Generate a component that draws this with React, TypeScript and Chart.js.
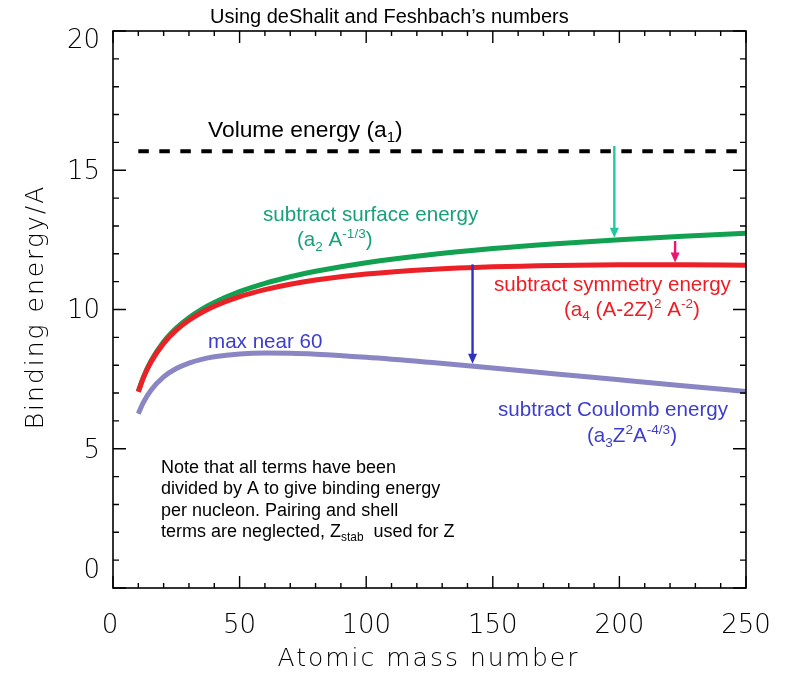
import React, { useEffect, useRef } from "react";
import { Chart, registerables } from "chart.js";

Chart.register(...registerables);

// ---------- data ----------
const massNumbers = [10, 12, 15, 20, 25, 30, 35, 40, 50, 60, 70, 80, 100, 125, 150, 175, 200, 225, 250];
const surfaceCurve = [7.065, 7.573, 8.154, 8.842, 9.333, 9.707, 10.006, 10.253, 10.642, 10.939, 11.177, 11.373, 11.681, 11.968, 12.187, 12.362, 12.506, 12.628, 12.734];
const symmetryCurve = [7.042, 7.544, 8.115, 8.785, 9.258, 9.612, 9.891, 10.118, 10.464, 10.716, 10.909, 11.058, 11.271, 11.436, 11.533, 11.584, 11.605, 11.604, 11.587];
const coulombCurve = [6.257, 6.664, 7.104, 7.580, 7.880, 8.077, 8.210, 8.302, 8.403, 8.436, 8.430, 8.397, 8.286, 8.103, 7.899, 7.687, 7.474, 7.263, 7.057];
const volumeMass = [10, 250];
const volumeLevel = [15.68, 15.68];

const arrowMass = [198, 222, 142];
const arrowFrom = [15.87, 12.46, 11.62];
const arrowTo = [12.58, 11.69, 8.05];

const xTickValues = [0, 50, 100, 150, 200, 250];
const xTickLabels = ["0", "50", "100", "150", "200", "250"];
const yTickValues = [0, 5, 10, 15, 20];
const yTickLabels = ["0", "5", "10", "15", "20"];
const xMinorStep = 10;
const yMinorStep = 1;

const titleText = "Using deShalit and Feshbach\u2019s numbers";
const xTitle = "Atomic mass number";
const yTitle = "Binding energy/A";
const noteLines = [
  "Note that all terms have been",
  "divided by A to give binding energy",
  "per nucleon. Pairing and shell",
];

// ---------- styles ----------
const GREEN = "#12a150";
const RED = "#ec2027";
const PURPLE = "#8a86c4";
const ARROW_COLORS = ["#22c9a0", "#f0126e", "#3030c0"];
const GREEN_TXT = "#17a07a";
const RED_TXT = "#ee1c24";
const BLUE_TXT = "#3d3dd0";
const SANS = "'Liberation Sans', Arial, sans-serif";
const AXFONT = "'DejaVu Sans', sans-serif";
const ANN = 20.6;

type Seg = [string, "n" | "sub" | "sup"];

function drawRich(ctx: CanvasRenderingContext2D, segs: Seg[], x: number, y: number, size: number, color: string) {
  ctx.save();
  ctx.fillStyle = color;
  ctx.textAlign = "left";
  ctx.textBaseline = "alphabetic";
  let cx = x;
  for (const [t, m] of segs) {
    const s = m === "n" ? size : size * 0.66;
    const dy = m === "sub" ? size * 0.22 : m === "sup" ? -size * 0.38 : 0;
    ctx.font = `${s}px ${SANS}`;
    ctx.fillText(t, cx, y + dy);
    cx += ctx.measureText(t).width;
  }
  ctx.restore();
}

const decorPlugin = {
  id: "decor",
  afterDatasetsDraw(chart: any) {
    const ctx: CanvasRenderingContext2D = chart.ctx;
    const xs = chart.scales.x;
    const ys = chart.scales.y;
    const { left, right, top, bottom } = chart.chartArea;

    // arrows
    arrowMass.forEach((m, i) => {
      const px = xs.getPixelForValue(m);
      const p0 = ys.getPixelForValue(arrowFrom[i]);
      const p1 = ys.getPixelForValue(arrowTo[i]);
      ctx.save();
      ctx.strokeStyle = ARROW_COLORS[i];
      ctx.fillStyle = ARROW_COLORS[i];
      ctx.lineWidth = 2.4;
      ctx.beginPath();
      ctx.moveTo(px, p0);
      ctx.lineTo(px, p1 - 6);
      ctx.stroke();
      ctx.beginPath();
      ctx.moveTo(px - 4.5, p1 - 10);
      ctx.lineTo(px + 4.5, p1 - 10);
      ctx.lineTo(px, p1);
      ctx.closePath();
      ctx.fill();
      ctx.restore();
    });

    // frame
    ctx.save();
    ctx.strokeStyle = "#000";
    ctx.lineWidth = 1.6;
    ctx.strokeRect(left, top, right - left, bottom - top);
    ctx.lineWidth = 1.4;
    ctx.beginPath();
    for (let v = xs.min; v <= xs.max + 1e-6; v += xMinorStep) {
      const px = xs.getPixelForValue(v);
      const len = xTickValues.includes(v) ? 12 : 5;
      ctx.moveTo(px, bottom);
      ctx.lineTo(px, bottom - len);
      ctx.moveTo(px, top);
      ctx.lineTo(px, top + len);
    }
    for (let v = ys.min; v <= ys.max + 1e-6; v += yMinorStep) {
      const py = ys.getPixelForValue(v);
      const len = yTickValues.includes(v) ? 13 : 6;
      ctx.moveTo(left, py);
      ctx.lineTo(left + len, py);
      ctx.moveTo(right, py);
      ctx.lineTo(right - len, py);
    }
    ctx.stroke();

    // tick labels
    ctx.fillStyle = "#000";
    ctx.font = `200 26px ${AXFONT}`;
    ctx.textAlign = "center";
    ctx.textBaseline = "alphabetic";
    xTickValues.forEach((v, i) => {
      ctx.fillText(xTickLabels[i], xs.getPixelForValue(v) - (v === 0 ? 3 : 0), bottom + 45);
    });
    ctx.textAlign = "right";
    ctx.textBaseline = "middle";
    yTickValues.forEach((v, i) => {
      let py = ys.getPixelForValue(v) + 2;
      py = Math.max(top + 10, Math.min(bottom - 17, py));
      ctx.fillText(yTickLabels[i], left - 13, py);
    });

    // axis titles
    ctx.font = `200 25px ${AXFONT}`;
    (ctx as any).letterSpacing = "2px";
    ctx.textAlign = "center";
    ctx.textBaseline = "alphabetic";
    ctx.fillText(xTitle, (left + right) / 2 - 1, 666);
    ctx.save();
    ctx.translate(43, 307);
    ctx.rotate(-Math.PI / 2);
    ctx.fillText(yTitle, 0, 0);
    ctx.restore();
    (ctx as any).letterSpacing = "0px";

    // title
    ctx.font = `20px ${SANS}`;
    ctx.textAlign = "left";
    ctx.fillText(titleText, 210, 23);
    ctx.restore();

    // annotations
    drawRich(ctx, [["Volume energy (a", "n"], ["1", "sub"], [")", "n"]], 208, 137, 22.8, "#000");
    drawRich(ctx, [["subtract surface energy", "n"]], 263, 221, ANN, GREEN_TXT);
    drawRich(ctx, [["(a", "n"], ["2", "sub"], [" A", "n"], ["-1/3", "sup"], [")", "n"]], 297, 246, ANN, GREEN_TXT);
    drawRich(ctx, [["subtract symmetry energy", "n"]], 494, 290.5, ANN, RED_TXT);
    drawRich(ctx, [["(a", "n"], ["4", "sub"], [" (A-2Z)", "n"], ["2", "sup"], [" A", "n"], ["-2", "sup"], [")", "n"]], 564, 315.5, ANN, RED_TXT);
    drawRich(ctx, [["max near 60", "n"]], 208, 348, ANN, BLUE_TXT);
    drawRich(ctx, [["subtract Coulomb energy", "n"]], 498, 416, ANN, BLUE_TXT);
    drawRich(ctx, [["(a", "n"], ["3", "sub"], ["Z", "n"], ["2", "sup"], ["A", "n"], ["-4/3", "sup"], [")", "n"]], 587, 442, ANN, BLUE_TXT);
    noteLines.forEach((l, i) => {
      drawRich(ctx, [[l, "n"]], 161, 472.5 + i * 21.5, 18, "#000");
    });
    drawRich(ctx, [["terms are neglected, Z", "n"], ["stab", "sub"], ["  used for Z", "n"]], 161, 472.5 + 3 * 21.5, 18, "#000");
  },
};

function pts(xv: number[], yv: number[]) {
  return xv.map((x, i) => ({ x, y: yv[i] }));
}

export default function App() {
  const ref = useRef<HTMLCanvasElement | null>(null);
  useEffect(() => {
    if (!ref.current) return;
    const chart = new Chart(ref.current, {
      type: "line",
      data: {
        datasets: [
          { label: "volume", data: pts(volumeMass, volumeLevel), borderColor: "#000", borderWidth: 4, borderDash: [10.5, 10.5], pointRadius: 0, fill: false },
          { label: "symmetry", data: pts(massNumbers, symmetryCurve), borderColor: RED, borderWidth: 5, pointRadius: 0, cubicInterpolationMode: "monotone", fill: false },
          { label: "surface", data: pts(massNumbers, surfaceCurve), borderColor: GREEN, borderWidth: 5, pointRadius: 0, cubicInterpolationMode: "monotone", fill: false },
          { label: "coulomb", data: pts(massNumbers, coulombCurve), borderColor: PURPLE, borderWidth: 5, pointRadius: 0, cubicInterpolationMode: "monotone", fill: false },
        ],
      },
      options: {
        responsive: false,
        animation: false,
        layout: { padding: { left: 113, top: 31, right: 42, bottom: 85 } },
        plugins: { legend: { display: false }, tooltip: { enabled: false }, title: { display: false } },
        scales: {
          x: { type: "linear", min: 0, max: 250, display: false },
          y: { type: "linear", min: 0, max: 20, display: false },
        },
      },
      plugins: [decorPlugin],
    } as any);
    return () => chart.destroy();
  }, []);
  return (
    <div style={{ position: "absolute", left: 0, top: 0, width: 788, height: 673, background: "#fff" }}>
      <canvas ref={ref} width={788} height={673} />
    </div>
  );
}
